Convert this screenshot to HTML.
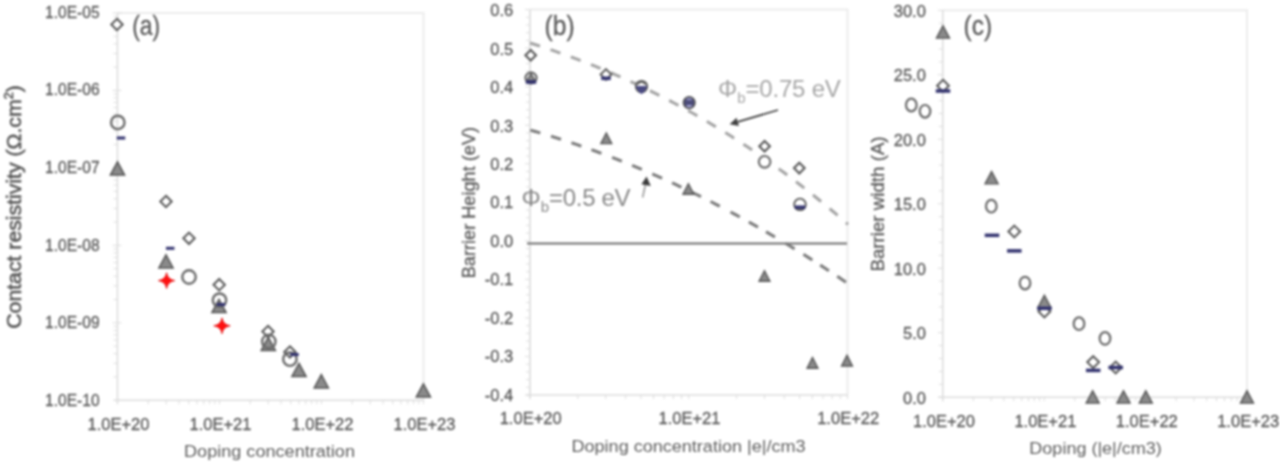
<!DOCTYPE html>
<html><head><meta charset="utf-8"><title>Figure</title>
<style>html,body{margin:0;padding:0;background:#fff;}body{width:1280px;height:464px;overflow:hidden;}svg{display:block;}#w{filter:blur(0.8px);}</style>
</head><body>
<div id="w"><svg width="1280" height="464" viewBox="0 0 1280 464" font-family="'Liberation Sans', Arial, sans-serif">
<path d="M117.5 13.0H423.5V400.3" fill="none" stroke="#ececec" stroke-width="2"/>
<line x1="117.50" y1="13.00" x2="117.50" y2="404.30" stroke="#dcdcdc" stroke-width="1.6" />
<line x1="113.50" y1="400.30" x2="423.50" y2="400.30" stroke="#dcdcdc" stroke-width="1.6" />
<line x1="148.21" y1="400.30" x2="148.21" y2="404.30" stroke="#dcdcdc" stroke-width="1" />
<line x1="166.17" y1="400.30" x2="166.17" y2="404.30" stroke="#dcdcdc" stroke-width="1" />
<line x1="178.91" y1="400.30" x2="178.91" y2="404.30" stroke="#dcdcdc" stroke-width="1" />
<line x1="188.79" y1="400.30" x2="188.79" y2="404.30" stroke="#dcdcdc" stroke-width="1" />
<line x1="196.87" y1="400.30" x2="196.87" y2="404.30" stroke="#dcdcdc" stroke-width="1" />
<line x1="203.70" y1="400.30" x2="203.70" y2="404.30" stroke="#dcdcdc" stroke-width="1" />
<line x1="209.62" y1="400.30" x2="209.62" y2="404.30" stroke="#dcdcdc" stroke-width="1" />
<line x1="214.83" y1="400.30" x2="214.83" y2="404.30" stroke="#dcdcdc" stroke-width="1" />
<line x1="219.50" y1="400.30" x2="219.50" y2="404.30" stroke="#dcdcdc" stroke-width="1" />
<line x1="250.21" y1="400.30" x2="250.21" y2="404.30" stroke="#dcdcdc" stroke-width="1" />
<line x1="268.17" y1="400.30" x2="268.17" y2="404.30" stroke="#dcdcdc" stroke-width="1" />
<line x1="280.91" y1="400.30" x2="280.91" y2="404.30" stroke="#dcdcdc" stroke-width="1" />
<line x1="290.79" y1="400.30" x2="290.79" y2="404.30" stroke="#dcdcdc" stroke-width="1" />
<line x1="298.87" y1="400.30" x2="298.87" y2="404.30" stroke="#dcdcdc" stroke-width="1" />
<line x1="305.70" y1="400.30" x2="305.70" y2="404.30" stroke="#dcdcdc" stroke-width="1" />
<line x1="311.62" y1="400.30" x2="311.62" y2="404.30" stroke="#dcdcdc" stroke-width="1" />
<line x1="316.83" y1="400.30" x2="316.83" y2="404.30" stroke="#dcdcdc" stroke-width="1" />
<line x1="321.50" y1="400.30" x2="321.50" y2="404.30" stroke="#dcdcdc" stroke-width="1" />
<line x1="352.21" y1="400.30" x2="352.21" y2="404.30" stroke="#dcdcdc" stroke-width="1" />
<line x1="370.17" y1="400.30" x2="370.17" y2="404.30" stroke="#dcdcdc" stroke-width="1" />
<line x1="382.91" y1="400.30" x2="382.91" y2="404.30" stroke="#dcdcdc" stroke-width="1" />
<line x1="392.79" y1="400.30" x2="392.79" y2="404.30" stroke="#dcdcdc" stroke-width="1" />
<line x1="400.87" y1="400.30" x2="400.87" y2="404.30" stroke="#dcdcdc" stroke-width="1" />
<line x1="407.70" y1="400.30" x2="407.70" y2="404.30" stroke="#dcdcdc" stroke-width="1" />
<line x1="413.62" y1="400.30" x2="413.62" y2="404.30" stroke="#dcdcdc" stroke-width="1" />
<line x1="418.83" y1="400.30" x2="418.83" y2="404.30" stroke="#dcdcdc" stroke-width="1" />
<line x1="423.50" y1="400.30" x2="423.50" y2="404.30" stroke="#dcdcdc" stroke-width="1" />
<line x1="113.50" y1="376.98" x2="117.50" y2="376.98" stroke="#dcdcdc" stroke-width="1" />
<line x1="113.50" y1="363.34" x2="117.50" y2="363.34" stroke="#dcdcdc" stroke-width="1" />
<line x1="113.50" y1="353.66" x2="117.50" y2="353.66" stroke="#dcdcdc" stroke-width="1" />
<line x1="113.50" y1="346.16" x2="117.50" y2="346.16" stroke="#dcdcdc" stroke-width="1" />
<line x1="113.50" y1="340.02" x2="117.50" y2="340.02" stroke="#dcdcdc" stroke-width="1" />
<line x1="113.50" y1="334.84" x2="117.50" y2="334.84" stroke="#dcdcdc" stroke-width="1" />
<line x1="113.50" y1="330.35" x2="117.50" y2="330.35" stroke="#dcdcdc" stroke-width="1" />
<line x1="113.50" y1="326.38" x2="117.50" y2="326.38" stroke="#dcdcdc" stroke-width="1" />
<line x1="112.50" y1="322.84" x2="121.50" y2="322.84" stroke="#dcdcdc" stroke-width="1" />
<line x1="113.50" y1="299.52" x2="117.50" y2="299.52" stroke="#dcdcdc" stroke-width="1" />
<line x1="113.50" y1="285.88" x2="117.50" y2="285.88" stroke="#dcdcdc" stroke-width="1" />
<line x1="113.50" y1="276.20" x2="117.50" y2="276.20" stroke="#dcdcdc" stroke-width="1" />
<line x1="113.50" y1="268.70" x2="117.50" y2="268.70" stroke="#dcdcdc" stroke-width="1" />
<line x1="113.50" y1="262.56" x2="117.50" y2="262.56" stroke="#dcdcdc" stroke-width="1" />
<line x1="113.50" y1="257.38" x2="117.50" y2="257.38" stroke="#dcdcdc" stroke-width="1" />
<line x1="113.50" y1="252.89" x2="117.50" y2="252.89" stroke="#dcdcdc" stroke-width="1" />
<line x1="113.50" y1="248.92" x2="117.50" y2="248.92" stroke="#dcdcdc" stroke-width="1" />
<line x1="112.50" y1="245.38" x2="121.50" y2="245.38" stroke="#dcdcdc" stroke-width="1" />
<line x1="113.50" y1="222.06" x2="117.50" y2="222.06" stroke="#dcdcdc" stroke-width="1" />
<line x1="113.50" y1="208.42" x2="117.50" y2="208.42" stroke="#dcdcdc" stroke-width="1" />
<line x1="113.50" y1="198.74" x2="117.50" y2="198.74" stroke="#dcdcdc" stroke-width="1" />
<line x1="113.50" y1="191.24" x2="117.50" y2="191.24" stroke="#dcdcdc" stroke-width="1" />
<line x1="113.50" y1="185.10" x2="117.50" y2="185.10" stroke="#dcdcdc" stroke-width="1" />
<line x1="113.50" y1="179.92" x2="117.50" y2="179.92" stroke="#dcdcdc" stroke-width="1" />
<line x1="113.50" y1="175.43" x2="117.50" y2="175.43" stroke="#dcdcdc" stroke-width="1" />
<line x1="113.50" y1="171.46" x2="117.50" y2="171.46" stroke="#dcdcdc" stroke-width="1" />
<line x1="112.50" y1="167.92" x2="121.50" y2="167.92" stroke="#dcdcdc" stroke-width="1" />
<line x1="113.50" y1="144.60" x2="117.50" y2="144.60" stroke="#dcdcdc" stroke-width="1" />
<line x1="113.50" y1="130.96" x2="117.50" y2="130.96" stroke="#dcdcdc" stroke-width="1" />
<line x1="113.50" y1="121.28" x2="117.50" y2="121.28" stroke="#dcdcdc" stroke-width="1" />
<line x1="113.50" y1="113.78" x2="117.50" y2="113.78" stroke="#dcdcdc" stroke-width="1" />
<line x1="113.50" y1="107.64" x2="117.50" y2="107.64" stroke="#dcdcdc" stroke-width="1" />
<line x1="113.50" y1="102.46" x2="117.50" y2="102.46" stroke="#dcdcdc" stroke-width="1" />
<line x1="113.50" y1="97.97" x2="117.50" y2="97.97" stroke="#dcdcdc" stroke-width="1" />
<line x1="113.50" y1="94.00" x2="117.50" y2="94.00" stroke="#dcdcdc" stroke-width="1" />
<line x1="112.50" y1="90.46" x2="121.50" y2="90.46" stroke="#dcdcdc" stroke-width="1" />
<line x1="113.50" y1="67.14" x2="117.50" y2="67.14" stroke="#dcdcdc" stroke-width="1" />
<line x1="113.50" y1="53.50" x2="117.50" y2="53.50" stroke="#dcdcdc" stroke-width="1" />
<line x1="113.50" y1="43.82" x2="117.50" y2="43.82" stroke="#dcdcdc" stroke-width="1" />
<line x1="113.50" y1="36.32" x2="117.50" y2="36.32" stroke="#dcdcdc" stroke-width="1" />
<line x1="113.50" y1="30.18" x2="117.50" y2="30.18" stroke="#dcdcdc" stroke-width="1" />
<line x1="113.50" y1="25.00" x2="117.50" y2="25.00" stroke="#dcdcdc" stroke-width="1" />
<line x1="113.50" y1="20.51" x2="117.50" y2="20.51" stroke="#dcdcdc" stroke-width="1" />
<line x1="113.50" y1="16.54" x2="117.50" y2="16.54" stroke="#dcdcdc" stroke-width="1" />
<line x1="112.50" y1="13.00" x2="121.50" y2="13.00" stroke="#dcdcdc" stroke-width="1" />
<text x="99.6" y="17.8" font-size="16.5" fill="#595959" stroke="#595959" stroke-width="0.3" text-anchor="end" textLength="54.5" lengthAdjust="spacingAndGlyphs" >1.0E-05</text>
<text x="99.6" y="95.4" font-size="16.5" fill="#595959" stroke="#595959" stroke-width="0.3" text-anchor="end" textLength="54.5" lengthAdjust="spacingAndGlyphs" >1.0E-06</text>
<text x="99.6" y="173.0" font-size="16.5" fill="#595959" stroke="#595959" stroke-width="0.3" text-anchor="end" textLength="54.5" lengthAdjust="spacingAndGlyphs" >1.0E-07</text>
<text x="99.6" y="250.6" font-size="16.5" fill="#595959" stroke="#595959" stroke-width="0.3" text-anchor="end" textLength="54.5" lengthAdjust="spacingAndGlyphs" >1.0E-08</text>
<text x="99.6" y="328.2" font-size="16.5" fill="#595959" stroke="#595959" stroke-width="0.3" text-anchor="end" textLength="54.5" lengthAdjust="spacingAndGlyphs" >1.0E-09</text>
<text x="99.6" y="405.8" font-size="16.5" fill="#595959" stroke="#595959" stroke-width="0.3" text-anchor="end" textLength="54.5" lengthAdjust="spacingAndGlyphs" >1.0E-10</text>
<text x="118.5" y="429.6" font-size="16.5" fill="#595959" stroke="#595959" stroke-width="0.3" text-anchor="middle" textLength="62" lengthAdjust="spacingAndGlyphs" >1.0E+20</text>
<text x="220.5" y="429.6" font-size="16.5" fill="#595959" stroke="#595959" stroke-width="0.3" text-anchor="middle" textLength="62" lengthAdjust="spacingAndGlyphs" >1.0E+21</text>
<text x="322.5" y="429.6" font-size="16.5" fill="#595959" stroke="#595959" stroke-width="0.3" text-anchor="middle" textLength="62" lengthAdjust="spacingAndGlyphs" >1.0E+22</text>
<text x="424.5" y="429.6" font-size="16.5" fill="#595959" stroke="#595959" stroke-width="0.3" text-anchor="middle" textLength="62" lengthAdjust="spacingAndGlyphs" >1.0E+23</text>
<text x="269.5" y="456.7" font-size="16.3" fill="#5e5e5e" stroke="#5e5e5e" stroke-width="0" text-anchor="middle" textLength="171" lengthAdjust="spacingAndGlyphs" >Doping concentration</text>
<text transform="translate(20.6,207) rotate(-90)" x="0" y="0" font-size="21" fill="#595959" stroke="#595959" stroke-width="0.6" text-anchor="middle" textLength="243.5" lengthAdjust="spacingAndGlyphs">Contact resistivity (&#937;.cm<tspan font-size="12.5" dy="-8">2</tspan><tspan dy="8">)</tspan></text>
<text x="146.2" y="34.8" font-size="27.5" fill="#595959" stroke="#595959" stroke-width="0.3" text-anchor="middle" textLength="28" lengthAdjust="spacingAndGlyphs" >(a)</text>
<path d="M117.00 18.80L122.70 24.50L117.00 30.20L111.30 24.50Z" fill="#fff" stroke="#595959" stroke-width="2.0"/>
<path d="M166.00 195.80L171.70 201.50L166.00 207.20L160.30 201.50Z" fill="#fff" stroke="#595959" stroke-width="2.0"/>
<path d="M189.00 232.60L194.70 238.30L189.00 244.00L183.30 238.30Z" fill="#fff" stroke="#595959" stroke-width="2.0"/>
<path d="M219.20 279.00L224.90 284.70L219.20 290.40L213.50 284.70Z" fill="#fff" stroke="#595959" stroke-width="2.0"/>
<path d="M268.00 325.80L273.70 331.50L268.00 337.20L262.30 331.50Z" fill="#fff" stroke="#595959" stroke-width="2.0"/>
<path d="M289.90 346.30L295.60 352.00L289.90 357.70L284.20 352.00Z" fill="#fff" stroke="#595959" stroke-width="2.0"/>
<path d="M117.50 161.90L124.60 175.10L110.40 175.10Z" fill="#8a8a8a" stroke="#555555" stroke-width="1.5" stroke-linejoin="miter"/>
<path d="M166.00 254.80L173.10 268.00L158.90 268.00Z" fill="#8a8a8a" stroke="#555555" stroke-width="1.5" stroke-linejoin="miter"/>
<path d="M219.00 299.40L226.10 312.60L211.90 312.60Z" fill="#8a8a8a" stroke="#555555" stroke-width="1.5" stroke-linejoin="miter"/>
<path d="M268.30 337.20L275.40 350.40L261.20 350.40Z" fill="#8a8a8a" stroke="#555555" stroke-width="1.5" stroke-linejoin="miter"/>
<path d="M299.00 363.40L306.10 376.60L291.90 376.60Z" fill="#8a8a8a" stroke="#555555" stroke-width="1.5" stroke-linejoin="miter"/>
<path d="M321.30 374.70L328.40 387.90L314.20 387.90Z" fill="#8a8a8a" stroke="#555555" stroke-width="1.5" stroke-linejoin="miter"/>
<path d="M423.40 383.80L430.50 397.00L416.30 397.00Z" fill="#8a8a8a" stroke="#555555" stroke-width="1.5" stroke-linejoin="miter"/>
<circle cx="117.80" cy="122.40" r="6.7" fill="none" stroke="#6a6a6a" stroke-width="2.4"/>
<circle cx="189.00" cy="277.00" r="6.7" fill="none" stroke="#6a6a6a" stroke-width="2.4"/>
<circle cx="219.50" cy="300.20" r="6.7" fill="none" stroke="#6a6a6a" stroke-width="2.4"/>
<circle cx="268.80" cy="341.50" r="6.7" fill="none" stroke="#6a6a6a" stroke-width="2.4"/>
<circle cx="289.90" cy="359.20" r="6.7" fill="none" stroke="#6a6a6a" stroke-width="2.4"/>
<rect x="116.75" y="136.50" width="8.5" height="3" fill="#33336f"/>
<rect x="165.95" y="246.80" width="8.5" height="3" fill="#33336f"/>
<rect x="216.75" y="303.00" width="8.5" height="3" fill="#33336f"/>
<rect x="290.25" y="353.00" width="8.5" height="3" fill="#33336f"/>
<path d="M166.60 272.70Q167.67 279.57 174.80 280.60Q167.67 281.63 166.60 288.50Q165.53 281.63 158.40 280.60Q165.53 279.57 166.60 272.70Z" fill="#ff1010" stroke="#e00000" stroke-width="0.8"/>
<path d="M222.00 317.90Q223.07 324.77 230.20 325.80Q223.07 326.83 222.00 333.70Q220.93 326.83 213.80 325.80Q220.93 324.77 222.00 317.90Z" fill="#ff1010" stroke="#e00000" stroke-width="0.8"/>
<path d="M530.0 9.6H847.5V395.0" fill="none" stroke="#ececec" stroke-width="2"/>
<line x1="530.00" y1="9.60" x2="530.00" y2="399.00" stroke="#dcdcdc" stroke-width="1.6" />
<line x1="526.00" y1="395.00" x2="847.50" y2="395.00" stroke="#dcdcdc" stroke-width="1.6" />
<line x1="577.79" y1="395.00" x2="577.79" y2="399.00" stroke="#dcdcdc" stroke-width="1" />
<line x1="605.74" y1="395.00" x2="605.74" y2="399.00" stroke="#dcdcdc" stroke-width="1" />
<line x1="625.58" y1="395.00" x2="625.58" y2="399.00" stroke="#dcdcdc" stroke-width="1" />
<line x1="640.96" y1="395.00" x2="640.96" y2="399.00" stroke="#dcdcdc" stroke-width="1" />
<line x1="653.53" y1="395.00" x2="653.53" y2="399.00" stroke="#dcdcdc" stroke-width="1" />
<line x1="664.16" y1="395.00" x2="664.16" y2="399.00" stroke="#dcdcdc" stroke-width="1" />
<line x1="673.37" y1="395.00" x2="673.37" y2="399.00" stroke="#dcdcdc" stroke-width="1" />
<line x1="681.49" y1="395.00" x2="681.49" y2="399.00" stroke="#dcdcdc" stroke-width="1" />
<line x1="688.75" y1="395.00" x2="688.75" y2="399.00" stroke="#dcdcdc" stroke-width="1" />
<line x1="736.54" y1="395.00" x2="736.54" y2="399.00" stroke="#dcdcdc" stroke-width="1" />
<line x1="764.49" y1="395.00" x2="764.49" y2="399.00" stroke="#dcdcdc" stroke-width="1" />
<line x1="784.33" y1="395.00" x2="784.33" y2="399.00" stroke="#dcdcdc" stroke-width="1" />
<line x1="799.71" y1="395.00" x2="799.71" y2="399.00" stroke="#dcdcdc" stroke-width="1" />
<line x1="812.28" y1="395.00" x2="812.28" y2="399.00" stroke="#dcdcdc" stroke-width="1" />
<line x1="822.91" y1="395.00" x2="822.91" y2="399.00" stroke="#dcdcdc" stroke-width="1" />
<line x1="832.12" y1="395.00" x2="832.12" y2="399.00" stroke="#dcdcdc" stroke-width="1" />
<line x1="840.24" y1="395.00" x2="840.24" y2="399.00" stroke="#dcdcdc" stroke-width="1" />
<line x1="847.50" y1="395.00" x2="847.50" y2="399.00" stroke="#dcdcdc" stroke-width="1" />
<line x1="525.00" y1="9.60" x2="530.00" y2="9.60" stroke="#dcdcdc" stroke-width="1" />
<line x1="526.00" y1="17.31" x2="530.00" y2="17.31" stroke="#dcdcdc" stroke-width="1" />
<line x1="526.00" y1="25.02" x2="530.00" y2="25.02" stroke="#dcdcdc" stroke-width="1" />
<line x1="526.00" y1="32.72" x2="530.00" y2="32.72" stroke="#dcdcdc" stroke-width="1" />
<line x1="526.00" y1="40.43" x2="530.00" y2="40.43" stroke="#dcdcdc" stroke-width="1" />
<line x1="525.00" y1="48.14" x2="530.00" y2="48.14" stroke="#dcdcdc" stroke-width="1" />
<line x1="526.00" y1="55.85" x2="530.00" y2="55.85" stroke="#dcdcdc" stroke-width="1" />
<line x1="526.00" y1="63.56" x2="530.00" y2="63.56" stroke="#dcdcdc" stroke-width="1" />
<line x1="526.00" y1="71.26" x2="530.00" y2="71.26" stroke="#dcdcdc" stroke-width="1" />
<line x1="526.00" y1="78.97" x2="530.00" y2="78.97" stroke="#dcdcdc" stroke-width="1" />
<line x1="525.00" y1="86.68" x2="530.00" y2="86.68" stroke="#dcdcdc" stroke-width="1" />
<line x1="526.00" y1="94.39" x2="530.00" y2="94.39" stroke="#dcdcdc" stroke-width="1" />
<line x1="526.00" y1="102.10" x2="530.00" y2="102.10" stroke="#dcdcdc" stroke-width="1" />
<line x1="526.00" y1="109.80" x2="530.00" y2="109.80" stroke="#dcdcdc" stroke-width="1" />
<line x1="526.00" y1="117.51" x2="530.00" y2="117.51" stroke="#dcdcdc" stroke-width="1" />
<line x1="525.00" y1="125.22" x2="530.00" y2="125.22" stroke="#dcdcdc" stroke-width="1" />
<line x1="526.00" y1="132.93" x2="530.00" y2="132.93" stroke="#dcdcdc" stroke-width="1" />
<line x1="526.00" y1="140.64" x2="530.00" y2="140.64" stroke="#dcdcdc" stroke-width="1" />
<line x1="526.00" y1="148.34" x2="530.00" y2="148.34" stroke="#dcdcdc" stroke-width="1" />
<line x1="526.00" y1="156.05" x2="530.00" y2="156.05" stroke="#dcdcdc" stroke-width="1" />
<line x1="525.00" y1="163.76" x2="530.00" y2="163.76" stroke="#dcdcdc" stroke-width="1" />
<line x1="526.00" y1="171.47" x2="530.00" y2="171.47" stroke="#dcdcdc" stroke-width="1" />
<line x1="526.00" y1="179.18" x2="530.00" y2="179.18" stroke="#dcdcdc" stroke-width="1" />
<line x1="526.00" y1="186.88" x2="530.00" y2="186.88" stroke="#dcdcdc" stroke-width="1" />
<line x1="526.00" y1="194.59" x2="530.00" y2="194.59" stroke="#dcdcdc" stroke-width="1" />
<line x1="525.00" y1="202.30" x2="530.00" y2="202.30" stroke="#dcdcdc" stroke-width="1" />
<line x1="526.00" y1="210.01" x2="530.00" y2="210.01" stroke="#dcdcdc" stroke-width="1" />
<line x1="526.00" y1="217.72" x2="530.00" y2="217.72" stroke="#dcdcdc" stroke-width="1" />
<line x1="526.00" y1="225.42" x2="530.00" y2="225.42" stroke="#dcdcdc" stroke-width="1" />
<line x1="526.00" y1="233.13" x2="530.00" y2="233.13" stroke="#dcdcdc" stroke-width="1" />
<line x1="525.00" y1="240.84" x2="530.00" y2="240.84" stroke="#dcdcdc" stroke-width="1" />
<line x1="526.00" y1="248.55" x2="530.00" y2="248.55" stroke="#dcdcdc" stroke-width="1" />
<line x1="526.00" y1="256.26" x2="530.00" y2="256.26" stroke="#dcdcdc" stroke-width="1" />
<line x1="526.00" y1="263.96" x2="530.00" y2="263.96" stroke="#dcdcdc" stroke-width="1" />
<line x1="526.00" y1="271.67" x2="530.00" y2="271.67" stroke="#dcdcdc" stroke-width="1" />
<line x1="525.00" y1="279.38" x2="530.00" y2="279.38" stroke="#dcdcdc" stroke-width="1" />
<line x1="526.00" y1="287.09" x2="530.00" y2="287.09" stroke="#dcdcdc" stroke-width="1" />
<line x1="526.00" y1="294.80" x2="530.00" y2="294.80" stroke="#dcdcdc" stroke-width="1" />
<line x1="526.00" y1="302.50" x2="530.00" y2="302.50" stroke="#dcdcdc" stroke-width="1" />
<line x1="526.00" y1="310.21" x2="530.00" y2="310.21" stroke="#dcdcdc" stroke-width="1" />
<line x1="525.00" y1="317.92" x2="530.00" y2="317.92" stroke="#dcdcdc" stroke-width="1" />
<line x1="526.00" y1="325.63" x2="530.00" y2="325.63" stroke="#dcdcdc" stroke-width="1" />
<line x1="526.00" y1="333.34" x2="530.00" y2="333.34" stroke="#dcdcdc" stroke-width="1" />
<line x1="526.00" y1="341.04" x2="530.00" y2="341.04" stroke="#dcdcdc" stroke-width="1" />
<line x1="526.00" y1="348.75" x2="530.00" y2="348.75" stroke="#dcdcdc" stroke-width="1" />
<line x1="525.00" y1="356.46" x2="530.00" y2="356.46" stroke="#dcdcdc" stroke-width="1" />
<line x1="526.00" y1="364.17" x2="530.00" y2="364.17" stroke="#dcdcdc" stroke-width="1" />
<line x1="526.00" y1="371.88" x2="530.00" y2="371.88" stroke="#dcdcdc" stroke-width="1" />
<line x1="526.00" y1="379.58" x2="530.00" y2="379.58" stroke="#dcdcdc" stroke-width="1" />
<line x1="526.00" y1="387.29" x2="530.00" y2="387.29" stroke="#dcdcdc" stroke-width="1" />
<line x1="525.00" y1="395.00" x2="530.00" y2="395.00" stroke="#dcdcdc" stroke-width="1" />
<text x="513.2" y="16.1" font-size="16.5" fill="#595959" stroke="#595959" stroke-width="0.3" text-anchor="end" >0.6</text>
<text x="513.2" y="54.6" font-size="16.5" fill="#595959" stroke="#595959" stroke-width="0.3" text-anchor="end" >0.5</text>
<text x="513.2" y="93.0" font-size="16.5" fill="#595959" stroke="#595959" stroke-width="0.3" text-anchor="end" >0.4</text>
<text x="513.2" y="131.5" font-size="16.5" fill="#595959" stroke="#595959" stroke-width="0.3" text-anchor="end" >0.3</text>
<text x="513.2" y="170.0" font-size="16.5" fill="#595959" stroke="#595959" stroke-width="0.3" text-anchor="end" >0.2</text>
<text x="513.2" y="208.4" font-size="16.5" fill="#595959" stroke="#595959" stroke-width="0.3" text-anchor="end" >0.1</text>
<text x="513.2" y="246.9" font-size="16.5" fill="#595959" stroke="#595959" stroke-width="0.3" text-anchor="end" >0.0</text>
<text x="513.2" y="285.4" font-size="16.5" fill="#595959" stroke="#595959" stroke-width="0.3" text-anchor="end" >-0.1</text>
<text x="513.2" y="323.9" font-size="16.5" fill="#595959" stroke="#595959" stroke-width="0.3" text-anchor="end" >-0.2</text>
<text x="513.2" y="362.3" font-size="16.5" fill="#595959" stroke="#595959" stroke-width="0.3" text-anchor="end" >-0.3</text>
<text x="513.2" y="400.8" font-size="16.5" fill="#595959" stroke="#595959" stroke-width="0.3" text-anchor="end" >-0.4</text>
<text x="530.7" y="424.4" font-size="16.5" fill="#595959" stroke="#595959" stroke-width="0.3" text-anchor="middle" textLength="62" lengthAdjust="spacingAndGlyphs" >1.0E+20</text>
<text x="689.5" y="424.4" font-size="16.5" fill="#595959" stroke="#595959" stroke-width="0.3" text-anchor="middle" textLength="62" lengthAdjust="spacingAndGlyphs" >1.0E+21</text>
<text x="848.2" y="424.4" font-size="16.5" fill="#595959" stroke="#595959" stroke-width="0.3" text-anchor="middle" textLength="62" lengthAdjust="spacingAndGlyphs" >1.0E+22</text>
<text x="688.5" y="452.4" font-size="16.3" fill="#5e5e5e" stroke="#5e5e5e" stroke-width="0" text-anchor="middle" textLength="234" lengthAdjust="spacingAndGlyphs" >Doping concentration |e|/cm3</text>
<text transform="translate(475.2,202.6) rotate(-90)" font-size="18.8" fill="#595959" stroke="#595959" stroke-width="0.3" text-anchor="middle" textLength="151.4" lengthAdjust="spacingAndGlyphs">Barrier Height (eV)</text>
<text x="559.6" y="34.8" font-size="27.5" fill="#595959" stroke="#595959" stroke-width="0.3" text-anchor="middle" textLength="30" lengthAdjust="spacingAndGlyphs" >(b)</text>
<line x1="527.00" y1="243.50" x2="847.00" y2="243.50" stroke="#6e6e6e" stroke-width="2" />
<path d="M530.00 42.99 L534.03 44.26 L538.05 45.54 L542.08 46.85 L546.10 48.19 L550.13 49.54 L554.15 50.91 L558.18 52.31 L562.20 53.73 L566.23 55.18 L570.25 56.64 L574.28 58.13 L578.30 59.65 L582.33 61.18 L586.35 62.74 L590.38 64.33 L594.41 65.93 L598.43 67.57 L602.46 69.22 L606.48 70.90 L610.51 72.61 L614.53 74.34 L618.56 76.10 L622.58 77.88 L626.61 79.69 L630.63 81.52 L634.66 83.38 L638.68 85.27 L642.71 87.18 L646.73 89.12 L650.76 91.09 L654.78 93.08 L658.81 95.10 L662.84 97.15 L666.86 99.22 L670.89 101.33 L674.91 103.46 L678.94 105.62 L682.96 107.80 L686.99 110.02 L691.01 112.27 L695.04 114.54 L699.06 116.84 L703.09 119.18 L707.11 121.54 L711.14 123.93 L715.16 126.35 L719.19 128.80 L723.22 131.29 L727.24 133.80 L731.27 136.34 L735.29 138.92 L739.32 141.52 L743.34 144.16 L747.37 146.83 L751.39 149.53 L755.42 152.26 L759.44 155.03 L763.47 157.82 L767.49 160.65 L771.52 163.51 L775.54 166.41 L779.57 169.34 L783.59 172.30 L787.62 175.29 L791.65 178.32 L795.67 181.38 L799.70 184.48 L803.72 187.61 L807.75 190.77 L811.77 193.97 L815.80 197.21 L819.82 200.48 L823.85 203.78 L827.87 207.12 L831.90 210.50 L835.92 213.91 L839.95 217.36 L843.97 220.84 L848.00 224.36" fill="none" stroke="#a3a3a3" stroke-width="3" stroke-dasharray="10.5 11.04"/>
<path d="M530.30 130.08 L531.30 130.37 L532.30 130.65 L533.30 130.94 L534.30 131.22 L535.30 131.51 L536.30 131.80 L537.30 132.09 L538.30 132.38 L539.30 132.68 L540.30 132.97 L540.30 132.97 M551.00 136.20 L552.00 136.51 L553.00 136.82 L554.00 137.13 L555.00 137.45 L556.00 137.76 L557.00 138.08 L558.00 138.39 L559.00 138.71 L560.00 139.03 L561.00 139.35 L561.00 139.35 M571.40 142.76 L572.40 143.09 L573.40 143.43 L574.40 143.77 L575.40 144.11 L576.40 144.45 L577.40 144.79 L578.40 145.13 L579.40 145.47 L580.40 145.82 L581.40 146.17 L581.40 146.17 M591.40 149.70 L592.40 150.06 L593.40 150.42 L594.40 150.78 L595.40 151.15 L596.40 151.51 L597.40 151.88 L598.40 152.25 L599.40 152.62 L600.40 152.99 L601.40 153.36 L601.40 153.36 M612.10 157.41 L613.10 157.80 L614.10 158.19 L615.10 158.58 L616.10 158.97 L617.10 159.36 L618.10 159.75 L619.10 160.15 L620.10 160.54 L621.10 160.94 L621.85 161.24 M632.10 165.38 L633.10 165.80 L634.10 166.21 L635.10 166.62 L636.10 167.04 L637.10 167.45 L638.10 167.87 L639.10 168.29 L640.10 168.71 L641.10 169.13 L641.85 169.45 M652.30 173.95 L653.30 174.38 L654.30 174.82 L655.30 175.26 L656.30 175.70 L657.30 176.14 L658.30 176.59 L659.30 177.03 L660.30 177.48 L661.30 177.93 L662.05 178.26 M672.00 182.79 L673.00 183.25 L674.00 183.72 L675.00 184.18 L676.00 184.65 L677.00 185.12 L678.00 185.58 L679.00 186.05 L680.00 186.52 L681.00 187.00 L681.50 187.23 M691.50 192.03 L692.50 192.52 L693.50 193.01 L694.50 193.50 L695.50 193.99 L696.50 194.48 L697.50 194.97 L698.50 195.47 L699.50 195.96 L700.50 196.46 L701.00 196.71 M710.50 201.50 L711.50 202.01 L712.50 202.52 L713.50 203.03 L714.50 203.55 L715.50 204.06 L716.50 204.58 L717.50 205.10 L718.50 205.62 L719.50 206.14 L719.75 206.27 M730.50 211.95 L731.50 212.49 L732.50 213.03 L733.50 213.57 L734.50 214.11 L735.50 214.65 L736.50 215.19 L737.50 215.73 L738.50 216.28 L739.50 216.82 L739.75 216.96 M748.80 221.96 L749.80 222.52 L750.80 223.08 L751.80 223.65 L752.80 224.21 L753.80 224.77 L754.80 225.34 L755.80 225.90 L756.80 226.47 L757.80 227.04 L758.05 227.18 M766.00 231.76 L767.00 232.34 L768.00 232.92 L769.00 233.50 L770.00 234.09 L771.00 234.68 L772.00 235.26 L773.00 235.85 L774.00 236.44 L775.00 237.03 L775.00 237.03 M785.60 243.38 L786.60 243.98 L787.60 244.59 L788.60 245.20 L789.60 245.81 L790.60 246.42 L791.60 247.03 L792.60 247.64 L793.60 248.26 L794.60 248.87 L794.60 248.87 M803.40 254.35 L804.40 254.97 L805.40 255.60 L806.40 256.23 L807.40 256.87 L808.40 257.50 L809.40 258.13 L810.40 258.77 L811.40 259.41 L812.40 260.05 L812.40 260.05 M820.20 265.07 L821.20 265.72 L822.20 266.37 L823.20 267.02 L824.20 267.67 L825.20 268.33 L826.20 268.98 L827.20 269.64 L828.20 270.30 L828.95 270.79 M837.20 276.28 L838.20 276.95 L839.20 277.62 L840.20 278.30 L841.20 278.97 L842.20 279.65 L843.20 280.33 L844.20 281.00 L845.20 281.68 L845.95 282.19" fill="none" stroke="#7a7a7a" stroke-width="3"/>
<path d="M530.70 49.90L536.00 55.20L530.70 60.50L525.40 55.20Z" fill="#fff" stroke="#595959" stroke-width="2.1"/>
<path d="M764.60 141.00L769.90 146.30L764.60 151.60L759.30 146.30Z" fill="#fff" stroke="#595959" stroke-width="2.1"/>
<path d="M799.30 162.80L804.60 168.10L799.30 173.40L794.00 168.10Z" fill="#fff" stroke="#595959" stroke-width="2.1"/>
<circle cx="531.00" cy="78.00" r="5.6" fill="#fff" stroke="#505050" stroke-width="1.8"/>
<path d="M531 73.2L535 80.5L527 80.5Z" fill="#8a8a8a" stroke="#505050" stroke-width="1.2"/>
<rect x="525.75" y="80.20" width="10.5" height="3.6" fill="#33336f"/>
<path d="M606.00 69.10L611.40 74.50L606.00 79.90L600.60 74.50Z" fill="#fff" stroke="#595959" stroke-width="1.9"/>
<rect x="601.25" y="76.50" width="9.5" height="3.6" fill="#33336f"/>
<circle cx="641.50" cy="86.50" r="5.7" fill="#fff" stroke="#555" stroke-width="1.8"/>
<path d="M635.8 86L647.2 86Q646 91 641.5 94.2Q637 91 635.8 86Z" fill="#4a4a82"/>
<path d="M637.5 84.5Q641.5 79.5 645.5 84.5" fill="none" stroke="#555" stroke-width="1.6"/>
<circle cx="689.20" cy="102.60" r="5.8" fill="#4d4d7a" stroke="#555" stroke-width="1.6"/>
<rect x="686.7" y="98" width="5" height="2.2" fill="#8f8fc0"/><rect x="686.7" y="105" width="5" height="2.2" fill="#a8a8d8"/>
<circle cx="764.60" cy="161.80" r="5.8" fill="#fff" stroke="#6a6a6a" stroke-width="2.1"/>
<circle cx="800.00" cy="204.40" r="5.8" fill="#fff" stroke="#555" stroke-width="1.8"/>
<rect x="794.75" y="205.50" width="10.5" height="3.4" fill="#33336f"/>
<path d="M606.30 133.00L611.70 143.60L600.90 143.60Z" fill="#8a8a8a" stroke="#555555" stroke-width="1.4" stroke-linejoin="miter"/>
<path d="M688.40 183.70L693.80 194.30L683.00 194.30Z" fill="#8a8a8a" stroke="#555555" stroke-width="1.4" stroke-linejoin="miter"/>
<path d="M764.50 270.70L769.90 281.30L759.10 281.30Z" fill="#8a8a8a" stroke="#555555" stroke-width="1.4" stroke-linejoin="miter"/>
<path d="M812.50 357.60L817.90 368.20L807.10 368.20Z" fill="#8a8a8a" stroke="#555555" stroke-width="1.4" stroke-linejoin="miter"/>
<path d="M847.00 355.40L852.40 366.00L841.60 366.00Z" fill="#8a8a8a" stroke="#555555" stroke-width="1.4" stroke-linejoin="miter"/>
<text x="718" y="97" font-size="24" fill="#a6a6a6">&#934;<tspan font-size="15" dy="6">b</tspan><tspan dy="-6" letter-spacing="-0.2">=0.75 eV</tspan></text>
<text x="521.5" y="206" font-size="24" fill="#888888">&#934;<tspan font-size="15" dy="6">b</tspan><tspan dy="-6" letter-spacing="-0.3">=0.5 eV</tspan></text>
<line x1="778.00" y1="110.00" x2="737.75" y2="121.89" stroke="#404040" stroke-width="1.7" />
<polygon points="729.60,124.30 736.56,117.86 738.94,125.92" fill="#404040"/>
<line x1="642.60" y1="197.50" x2="645.60" y2="184.00" stroke="#9a9a9a" stroke-width="1.6" />
<polygon points="646.6,176.6 650.8,186 641.4,184.2" fill="#3a3a3a"/>
<path d="M942.8 10.3H1247.0V397.2" fill="none" stroke="#ececec" stroke-width="2"/>
<line x1="942.80" y1="10.30" x2="942.80" y2="401.20" stroke="#dcdcdc" stroke-width="1.6" />
<line x1="938.80" y1="397.20" x2="1247.00" y2="397.20" stroke="#dcdcdc" stroke-width="1.6" />
<line x1="973.32" y1="397.20" x2="973.32" y2="401.20" stroke="#dcdcdc" stroke-width="1" />
<line x1="991.18" y1="397.20" x2="991.18" y2="401.20" stroke="#dcdcdc" stroke-width="1" />
<line x1="1003.85" y1="397.20" x2="1003.85" y2="401.20" stroke="#dcdcdc" stroke-width="1" />
<line x1="1013.68" y1="397.20" x2="1013.68" y2="401.20" stroke="#dcdcdc" stroke-width="1" />
<line x1="1021.70" y1="397.20" x2="1021.70" y2="401.20" stroke="#dcdcdc" stroke-width="1" />
<line x1="1028.49" y1="397.20" x2="1028.49" y2="401.20" stroke="#dcdcdc" stroke-width="1" />
<line x1="1034.37" y1="397.20" x2="1034.37" y2="401.20" stroke="#dcdcdc" stroke-width="1" />
<line x1="1039.56" y1="397.20" x2="1039.56" y2="401.20" stroke="#dcdcdc" stroke-width="1" />
<line x1="1044.20" y1="397.20" x2="1044.20" y2="401.20" stroke="#dcdcdc" stroke-width="1" />
<line x1="1074.72" y1="397.20" x2="1074.72" y2="401.20" stroke="#dcdcdc" stroke-width="1" />
<line x1="1092.58" y1="397.20" x2="1092.58" y2="401.20" stroke="#dcdcdc" stroke-width="1" />
<line x1="1105.25" y1="397.20" x2="1105.25" y2="401.20" stroke="#dcdcdc" stroke-width="1" />
<line x1="1115.08" y1="397.20" x2="1115.08" y2="401.20" stroke="#dcdcdc" stroke-width="1" />
<line x1="1123.10" y1="397.20" x2="1123.10" y2="401.20" stroke="#dcdcdc" stroke-width="1" />
<line x1="1129.89" y1="397.20" x2="1129.89" y2="401.20" stroke="#dcdcdc" stroke-width="1" />
<line x1="1135.77" y1="397.20" x2="1135.77" y2="401.20" stroke="#dcdcdc" stroke-width="1" />
<line x1="1140.96" y1="397.20" x2="1140.96" y2="401.20" stroke="#dcdcdc" stroke-width="1" />
<line x1="1145.60" y1="397.20" x2="1145.60" y2="401.20" stroke="#dcdcdc" stroke-width="1" />
<line x1="1176.12" y1="397.20" x2="1176.12" y2="401.20" stroke="#dcdcdc" stroke-width="1" />
<line x1="1193.98" y1="397.20" x2="1193.98" y2="401.20" stroke="#dcdcdc" stroke-width="1" />
<line x1="1206.65" y1="397.20" x2="1206.65" y2="401.20" stroke="#dcdcdc" stroke-width="1" />
<line x1="1216.48" y1="397.20" x2="1216.48" y2="401.20" stroke="#dcdcdc" stroke-width="1" />
<line x1="1224.50" y1="397.20" x2="1224.50" y2="401.20" stroke="#dcdcdc" stroke-width="1" />
<line x1="1231.29" y1="397.20" x2="1231.29" y2="401.20" stroke="#dcdcdc" stroke-width="1" />
<line x1="1237.17" y1="397.20" x2="1237.17" y2="401.20" stroke="#dcdcdc" stroke-width="1" />
<line x1="1242.36" y1="397.20" x2="1242.36" y2="401.20" stroke="#dcdcdc" stroke-width="1" />
<line x1="1247.00" y1="397.20" x2="1247.00" y2="401.20" stroke="#dcdcdc" stroke-width="1" />
<line x1="937.80" y1="10.30" x2="942.80" y2="10.30" stroke="#dcdcdc" stroke-width="1" />
<line x1="938.80" y1="23.20" x2="942.80" y2="23.20" stroke="#dcdcdc" stroke-width="1" />
<line x1="938.80" y1="36.09" x2="942.80" y2="36.09" stroke="#dcdcdc" stroke-width="1" />
<line x1="938.80" y1="48.99" x2="942.80" y2="48.99" stroke="#dcdcdc" stroke-width="1" />
<line x1="938.80" y1="61.89" x2="942.80" y2="61.89" stroke="#dcdcdc" stroke-width="1" />
<line x1="937.80" y1="74.78" x2="942.80" y2="74.78" stroke="#dcdcdc" stroke-width="1" />
<line x1="938.80" y1="87.68" x2="942.80" y2="87.68" stroke="#dcdcdc" stroke-width="1" />
<line x1="938.80" y1="100.58" x2="942.80" y2="100.58" stroke="#dcdcdc" stroke-width="1" />
<line x1="938.80" y1="113.47" x2="942.80" y2="113.47" stroke="#dcdcdc" stroke-width="1" />
<line x1="938.80" y1="126.37" x2="942.80" y2="126.37" stroke="#dcdcdc" stroke-width="1" />
<line x1="937.80" y1="139.27" x2="942.80" y2="139.27" stroke="#dcdcdc" stroke-width="1" />
<line x1="938.80" y1="152.16" x2="942.80" y2="152.16" stroke="#dcdcdc" stroke-width="1" />
<line x1="938.80" y1="165.06" x2="942.80" y2="165.06" stroke="#dcdcdc" stroke-width="1" />
<line x1="938.80" y1="177.96" x2="942.80" y2="177.96" stroke="#dcdcdc" stroke-width="1" />
<line x1="938.80" y1="190.85" x2="942.80" y2="190.85" stroke="#dcdcdc" stroke-width="1" />
<line x1="937.80" y1="203.75" x2="942.80" y2="203.75" stroke="#dcdcdc" stroke-width="1" />
<line x1="938.80" y1="216.65" x2="942.80" y2="216.65" stroke="#dcdcdc" stroke-width="1" />
<line x1="938.80" y1="229.54" x2="942.80" y2="229.54" stroke="#dcdcdc" stroke-width="1" />
<line x1="938.80" y1="242.44" x2="942.80" y2="242.44" stroke="#dcdcdc" stroke-width="1" />
<line x1="938.80" y1="255.34" x2="942.80" y2="255.34" stroke="#dcdcdc" stroke-width="1" />
<line x1="937.80" y1="268.23" x2="942.80" y2="268.23" stroke="#dcdcdc" stroke-width="1" />
<line x1="938.80" y1="281.13" x2="942.80" y2="281.13" stroke="#dcdcdc" stroke-width="1" />
<line x1="938.80" y1="294.03" x2="942.80" y2="294.03" stroke="#dcdcdc" stroke-width="1" />
<line x1="938.80" y1="306.92" x2="942.80" y2="306.92" stroke="#dcdcdc" stroke-width="1" />
<line x1="938.80" y1="319.82" x2="942.80" y2="319.82" stroke="#dcdcdc" stroke-width="1" />
<line x1="937.80" y1="332.72" x2="942.80" y2="332.72" stroke="#dcdcdc" stroke-width="1" />
<line x1="938.80" y1="345.61" x2="942.80" y2="345.61" stroke="#dcdcdc" stroke-width="1" />
<line x1="938.80" y1="358.51" x2="942.80" y2="358.51" stroke="#dcdcdc" stroke-width="1" />
<line x1="938.80" y1="371.41" x2="942.80" y2="371.41" stroke="#dcdcdc" stroke-width="1" />
<line x1="938.80" y1="384.30" x2="942.80" y2="384.30" stroke="#dcdcdc" stroke-width="1" />
<line x1="937.80" y1="397.20" x2="942.80" y2="397.20" stroke="#dcdcdc" stroke-width="1" />
<text x="925.9" y="16.5" font-size="16.5" fill="#595959" stroke="#595959" stroke-width="0.3" text-anchor="end" >30.0</text>
<text x="925.9" y="81.0" font-size="16.5" fill="#595959" stroke="#595959" stroke-width="0.3" text-anchor="end" >25.0</text>
<text x="925.9" y="145.5" font-size="16.5" fill="#595959" stroke="#595959" stroke-width="0.3" text-anchor="end" >20.0</text>
<text x="925.9" y="210.0" font-size="16.5" fill="#595959" stroke="#595959" stroke-width="0.3" text-anchor="end" >15.0</text>
<text x="925.9" y="274.5" font-size="16.5" fill="#595959" stroke="#595959" stroke-width="0.3" text-anchor="end" >10.0</text>
<text x="925.9" y="339.0" font-size="16.5" fill="#595959" stroke="#595959" stroke-width="0.3" text-anchor="end" >5.0</text>
<text x="925.9" y="403.5" font-size="16.5" fill="#595959" stroke="#595959" stroke-width="0.3" text-anchor="end" >0.0</text>
<text x="944.0" y="426.5" font-size="16.5" fill="#595959" stroke="#595959" stroke-width="0.3" text-anchor="middle" textLength="62" lengthAdjust="spacingAndGlyphs" >1.0E+20</text>
<text x="1045.4" y="426.5" font-size="16.5" fill="#595959" stroke="#595959" stroke-width="0.3" text-anchor="middle" textLength="62" lengthAdjust="spacingAndGlyphs" >1.0E+21</text>
<text x="1146.8" y="426.5" font-size="16.5" fill="#595959" stroke="#595959" stroke-width="0.3" text-anchor="middle" textLength="62" lengthAdjust="spacingAndGlyphs" >1.0E+22</text>
<text x="1248.2" y="426.5" font-size="16.5" fill="#595959" stroke="#595959" stroke-width="0.3" text-anchor="middle" textLength="62" lengthAdjust="spacingAndGlyphs" >1.0E+23</text>
<text x="1095.6" y="454.4" font-size="16.3" fill="#5e5e5e" stroke="#5e5e5e" stroke-width="0" text-anchor="middle" textLength="132.5" lengthAdjust="spacingAndGlyphs" >Doping (|e|/cm3)</text>
<text transform="translate(883.8,204) rotate(-90)" font-size="18.8" fill="#595959" stroke="#595959" stroke-width="0.3" text-anchor="middle" textLength="135.2" lengthAdjust="spacingAndGlyphs">Barrier width (A)</text>
<text x="977.8" y="34.8" font-size="27.5" fill="#595959" stroke="#595959" stroke-width="0.3" text-anchor="middle" textLength="28.5" lengthAdjust="spacingAndGlyphs" >(c)</text>
<path d="M943.00 79.80L948.90 85.70L943.00 91.60L937.10 85.70Z" fill="#fff" stroke="#595959" stroke-width="2.0"/>
<path d="M1014.30 225.60L1020.20 231.50L1014.30 237.40L1008.40 231.50Z" fill="#fff" stroke="#595959" stroke-width="2.0"/>
<path d="M1044.40 305.60L1050.30 311.50L1044.40 317.40L1038.50 311.50Z" fill="#fff" stroke="#595959" stroke-width="2.0"/>
<path d="M1093.20 356.20L1099.10 362.10L1093.20 368.00L1087.30 362.10Z" fill="#fff" stroke="#595959" stroke-width="2.0"/>
<path d="M1115.70 361.60L1121.60 367.50L1115.70 373.40L1109.80 367.50Z" fill="#fff" stroke="#595959" stroke-width="2.0"/>
<ellipse cx="911.3" cy="105" rx="5.3" ry="6.3" fill="#fff" stroke="#6a6a6a" stroke-width="2.2"/>
<ellipse cx="925" cy="111.3" rx="5.3" ry="6.3" fill="#fff" stroke="#6a6a6a" stroke-width="2.2"/>
<ellipse cx="991.3" cy="206.2" rx="5.3" ry="6.3" fill="#fff" stroke="#6a6a6a" stroke-width="2.2"/>
<ellipse cx="1025" cy="283.1" rx="5.3" ry="6.3" fill="#fff" stroke="#6a6a6a" stroke-width="2.2"/>
<ellipse cx="1079" cy="323.7" rx="5.3" ry="6.3" fill="#fff" stroke="#6a6a6a" stroke-width="2.2"/>
<ellipse cx="1105" cy="338.4" rx="5.3" ry="6.3" fill="#fff" stroke="#6a6a6a" stroke-width="2.2"/>
<path d="M943.00 25.85L949.50 38.15L936.50 38.15Z" fill="#8a8a8a" stroke="#555555" stroke-width="1.4" stroke-linejoin="miter"/>
<path d="M991.60 171.55L998.10 183.85L985.10 183.85Z" fill="#8a8a8a" stroke="#555555" stroke-width="1.4" stroke-linejoin="miter"/>
<path d="M1044.40 295.35L1050.90 307.65L1037.90 307.65Z" fill="#8a8a8a" stroke="#555555" stroke-width="1.4" stroke-linejoin="miter"/>
<path d="M1092.70 390.85L1099.20 403.15L1086.20 403.15Z" fill="#8a8a8a" stroke="#555555" stroke-width="1.4" stroke-linejoin="miter"/>
<path d="M1123.50 390.85L1130.00 403.15L1117.00 403.15Z" fill="#8a8a8a" stroke="#555555" stroke-width="1.4" stroke-linejoin="miter"/>
<path d="M1145.80 390.85L1152.30 403.15L1139.30 403.15Z" fill="#8a8a8a" stroke="#555555" stroke-width="1.4" stroke-linejoin="miter"/>
<path d="M1247.00 390.85L1253.50 403.15L1240.50 403.15Z" fill="#8a8a8a" stroke="#555555" stroke-width="1.4" stroke-linejoin="miter"/>
<rect x="935.75" y="89.25" width="14.5" height="3.5" fill="#33336f"/>
<rect x="984.75" y="233.55" width="14.5" height="3.5" fill="#33336f"/>
<rect x="1007.05" y="249.15" width="14.5" height="3.5" fill="#33336f"/>
<rect x="1037.15" y="306.55" width="14.5" height="3.5" fill="#33336f"/>
<rect x="1085.95" y="368.65" width="14.5" height="3.5" fill="#33336f"/>
<rect x="1108.45" y="365.75" width="14.5" height="3.5" fill="#33336f"/>
</svg></div>
</body></html>
